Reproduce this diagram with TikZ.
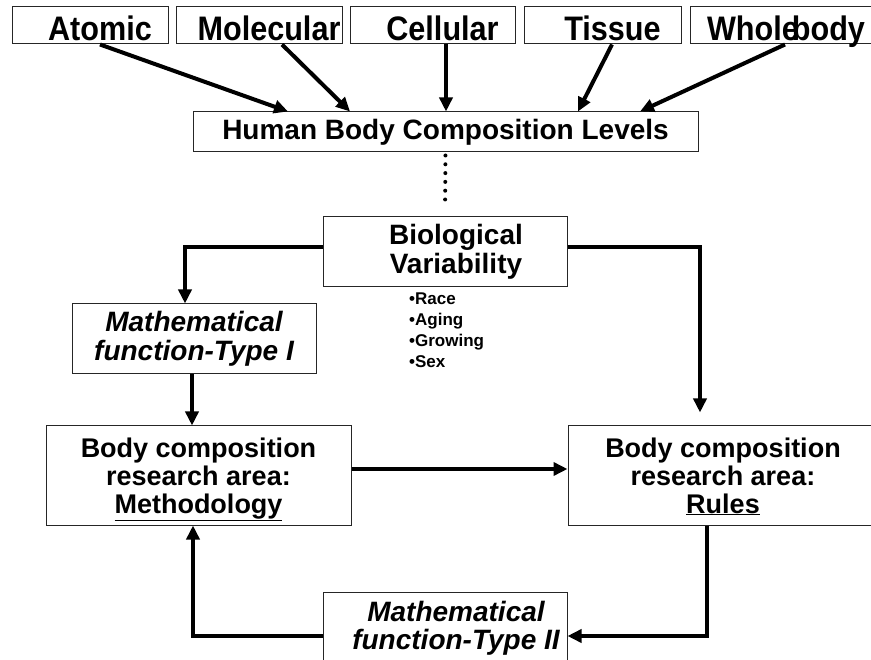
\documentclass[tikz,border=0pt]{standalone}
\usepackage{fontspec}
\setmainfont{Liberation Sans}
\newfontfamily\narrowsans{Liberation Sans}[FakeStretch=0.9]
\usepackage{tikz}
\usetikzlibrary{arrows.meta, positioning, calc}

\begin{document}
\begin{tikzpicture}[
    x=1pt, y=-1pt,        % <--- work in pixel units, y downwards
    levelbox/.style={rectangle, draw=black!85, line width=1pt, minimum height=37pt,
                     inner sep=0pt, text height=34pt, text depth=3pt,
                     font=\narrowsans\fontsize{34}{36}\selectfont\bfseries},
    box/.style={rectangle, draw=black!85, line width=1pt, inner sep=0pt, align=center,
                font=\fontsize{28}{29}\selectfont\bfseries},
    areabox/.style={box, minimum height=99pt, text height=87pt, text depth=12pt,
                    font=\fontsize{27}{28}\selectfont\bfseries},
    arrow/.style={-{Triangle[length=14pt, width=13pt]}, line width=4pt},
    dotline/.style={line width=4pt, line cap=round, dash pattern=on 0pt off 8.8pt}
]
\useasboundingbox (0,0) rectangle (871,660);

% composition levels
\node[levelbox, minimum width=156pt] (atomic) at (90,25.5) {\hspace*{20pt}Atomic};
\node[levelbox, minimum width=166pt] (molecular) at (259,25.5) {\hspace*{20pt}Molecular};
\node[levelbox, minimum width=165pt] (cellular) at (432.5,25.5) {\hspace*{20pt}Cellular};
\node[levelbox, minimum width=157pt] (tissue) at (602.5,25.5) {\hspace*{20pt}Tissue};
\node[levelbox, minimum width=210pt] (wholebody) at (795,25.5) {\hspace*{-18pt}Whole\kern-7pt body};

\node[box, minimum width=505pt, minimum height=40pt] (levels) at (445.5,132) {Human Body Composition Levels};

\draw[arrow] ([xshift=10pt]atomic.south) -- ([xshift=-157.5pt]levels.north);
\draw[arrow] ([xshift=23pt]molecular.south) -- ([xshift=-95.5pt]levels.north);
\draw[arrow] ([xshift=13.5pt]cellular.south) -- ([xshift=0.5pt]levels.north);
\draw[arrow] ([xshift=9.5pt]tissue.south) -- ([xshift=132.5pt]levels.north);
\draw[arrow] ([xshift=-10pt]wholebody.south) -- ([xshift=194.5pt]levels.north);

% variability
\node[box, minimum width=244pt, minimum height=70pt] (biovar) at (445,252)
    {\hspace*{22pt}Biological\\\hspace*{22pt}Variability};
\node[anchor=north west, inner sep=0pt, align=left, font=\fontsize{17}{21}\selectfont\bfseries]
    (factors) at (409,293) {•Race\\•Aging\\•Growing\\•Sex};

\draw[dotline, shorten >=9pt, shorten <=3pt] (levels.south) -- (biovar.north);

% functions and research areas
\node[box, minimum width=244pt, minimum height=70pt, font=\fontsize{28}{29}\selectfont\bfseries\itshape]
    (typeone) at (194,339) {Mathematical\\function-Type I};
\node[areabox, minimum width=305pt] (method) at (198.5,475.5)
    {Body composition\\research area:\\\underline{Methodology}};
\node[areabox, minimum width=310pt] (rules) at (723,475.5)
    {Body composition\\research area:\\\underline{Rules}};
\node[box, minimum width=244pt, minimum height=72pt, font=\fontsize{28}{28}\selectfont\bfseries\itshape]
    (typetwo) at (445,628) {\hspace*{22pt}Mathematical\\\hspace*{22pt}function-Type II};

\draw[arrow] ([yshift=5pt]biovar.west) -| ([xshift=-9pt]typeone.north);
\draw[arrow] ([yshift=5pt]biovar.east) -| ([xshift=-23pt,yshift=13pt]rules.north);
\draw[arrow] ([xshift=-2pt]typeone.south) -- ([xshift=-6.5pt]method.north);
\draw[arrow] ([yshift=6.5pt]method.east) -- ([yshift=6.5pt]rules.west);
\draw[arrow] ([xshift=-16pt]rules.south) |- ([yshift=-8pt]typetwo.east);
\draw[arrow] ([yshift=-8pt]typetwo.west) -| ([xshift=-5.5pt]method.south);

\end{tikzpicture}
\end{document}
